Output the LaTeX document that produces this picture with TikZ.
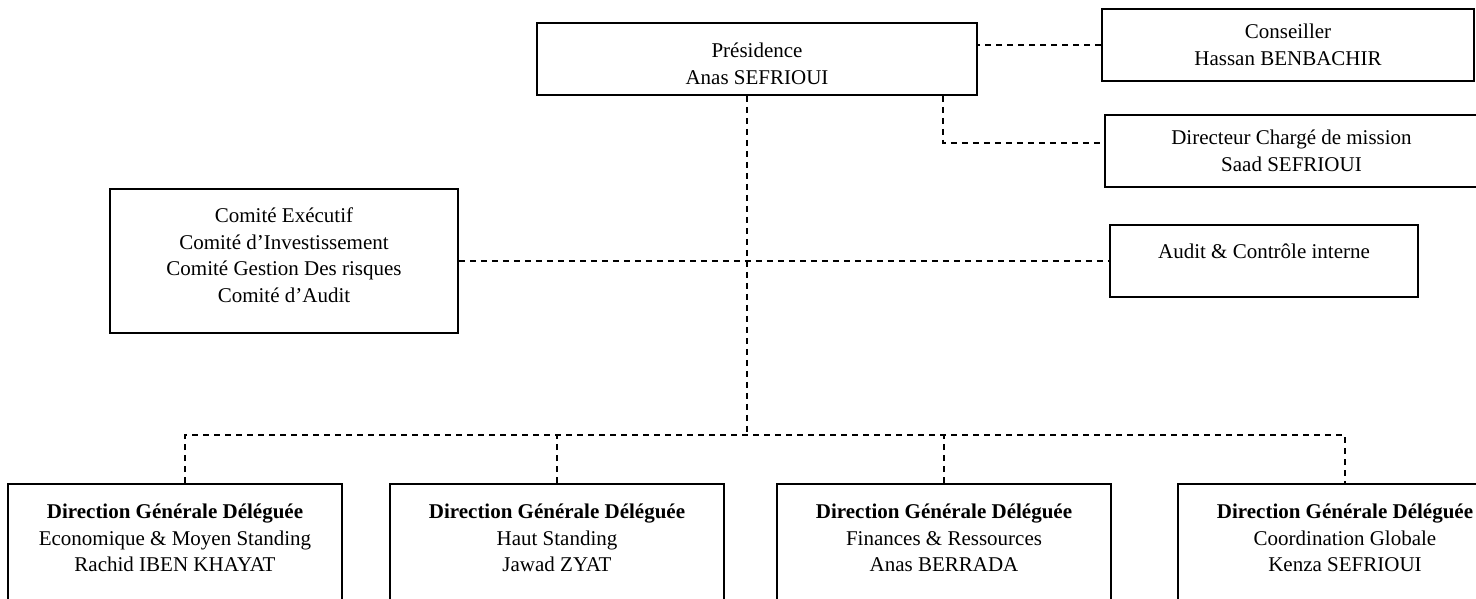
\documentclass[tikz,border=0pt]{standalone}
\usepackage{fontspec}
\setmainfont{Liberation Serif}
\begin{document}
\begin{tikzpicture}[x=1pt, y=-1pt, line width=1.8pt,
  box/.style = {draw, align=center, inner sep=0pt, font=\fontsize{21}{26.5}\selectfont},
  dg/.style = {box, anchor=north, minimum width=334pt, minimum height=143pt},
  link/.style = {line width=1.6pt, dash pattern=on 6pt off 5pt}]
\useasboundingbox (0,0) rectangle (1476,598);
\clip (0,0) rectangle (1476,598);

\node[box, minimum width=440pt, minimum height=72pt] (pres) at (757,59) {\rule{0pt}{24pt}Présidence\\Anas SEFRIOUI};
\node[box, minimum width=372pt, minimum height=72pt] (cons) at (1288,45) {Conseiller\\Hassan BENBACHIR};
\node[box, minimum width=373pt, minimum height=72pt] (mission) at (1291.5,151) {Directeur Chargé de mission\\Saad SEFRIOUI};
\node[box, minimum width=348pt, minimum height=144pt] (comite) at (284,261) {Comité Exécutif\\Comité d’Investissement\\Comité Gestion Des risques\\Comité d’Audit\rule[-12pt]{0pt}{12pt}};
\node[box, minimum width=308pt, minimum height=72pt] (audit) at (1264,261) {Audit \& Contrôle interne\rule[-19pt]{0pt}{19pt}};

\node[dg] (dg1) at (175,483) {\textbf{Direction Générale Déléguée}\\Economique \& Moyen Standing\\Rachid IBEN KHAYAT\\\strut};
\node[dg] (dg2) at (557,483) {\textbf{Direction Générale Déléguée}\\Haut Standing\\Jawad ZYAT\\\strut};
\node[dg] (dg3) at (944,483) {\textbf{Direction Générale Déléguée}\\Finances \& Ressources\\Anas BERRADA\\\strut};
\node[dg] (dg4) at (1345,483) {\textbf{Direction Générale Déléguée}\\Coordination Globale\\Kenza SEFRIOUI\\\strut};

\coordinate (bus) at (747,435);
\coordinate (elbow) at (943,143);

% liaisons
\draw[link] (cons.west) -- (cons.west -| pres.east);
\draw[link] (elbow |- pres.south) -- (elbow) -- (elbow -| mission.west);
\draw[link] (comite) -- (audit);
\draw[link] (bus |- pres.south) -- (bus);
\draw[link] ([xshift=10pt]dg1.north) |- (bus) -| (dg4.north);
\draw[link] (dg2.north) -- (dg2.north |- bus);
\draw[link] (dg3.north) -- (dg3.north |- bus);

\end{tikzpicture}
\end{document}
